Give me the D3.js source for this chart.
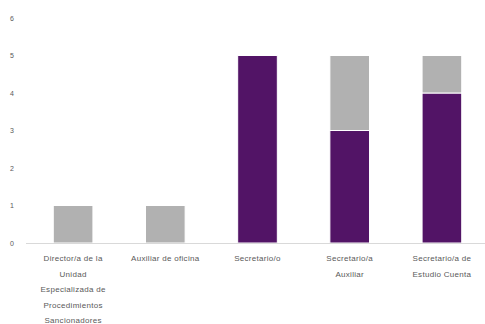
<!DOCTYPE html>
<html>
<head>
<meta charset="utf-8">
<script src="https://cdn.jsdelivr.net/npm/d3@7"></script>
<style>
  html, body { margin: 0; padding: 0; background: #fff; }
  svg { display: block; font-family: Calibri, Carlito, "Liberation Sans", Arial, sans-serif; }
</style>
</head>
<body>
<svg id="j-svg" width="485" height="324" viewBox="0 0 485 324"></svg>
<script>
'use strict';

/* global d3 */

// categories, one array of text lines per category
var categories = [
  ['Director/a de la', 'Unidad', 'Especializada de', 'Procedimientos', 'Sancionadores'],
  ['Auxiliar de oficina'],
  ['Secretario/o'],
  ['Secretario/a', 'Auxiliar'],
  ['Secretario/a de', 'Estudio Cuenta']
];
var seriesNames = ['Mujeres', 'Hombres'];
var mujeres = [0, 0, 5, 3, 4];
var hombres = [1, 1, 0, 2, 1];
var yTicks = [0, 1, 2, 3, 4, 5, 6];

var colors = ['#521466', '#b1b1b1'];

var svg = d3.select('#j-svg');
var margins = { top: 18, right: 0, bottom: 81, left: 27 };
var width = 488 - margins.left;
var height = 324 - margins.top - margins.bottom;

var g = svg.append('g').attr('transform', 'translate(' + margins.left + ',' + margins.top + ')');

var keys = categories.map(function (c, i) { return i; });

var x = d3.scaleBand().domain(keys).range([0, width]).paddingInner(0.57).paddingOuter(0.285);
var y = d3.scaleLinear().domain([0, 6]).range([height, 0]);

var table = keys.map(function (i) {
  return { Mujeres: mujeres[i], Hombres: hombres[i], idx: i };
});
var stacked = d3.stack().keys(seriesNames)(table);

// y axis labels only
var yAxis = d3.axisLeft(y).tickValues(yTicks).tickFormat(d3.format('d')).tickSize(0).tickPadding(0);
var ya = g.append('g').attr('class', 'y-axis').attr('transform', 'translate(-15,0)').call(yAxis);
ya.select('.domain').remove();
ya.selectAll('text').attr('fill', '#595959').style('font-size', '7px').attr('text-anchor', 'middle');

// bars
g.selectAll('.series').data(stacked).enter().append('g')
  .attr('class', 'series')
  .attr('fill', function (d, i) { return colors[i]; })
  .selectAll('rect').data(function (d) { return d; }).enter()
  .filter(function (d) { return d[1] - d[0] > 0; })
  .append('rect')
  .attr('x', function (d) { return x(d.data.idx); })
  .attr('width', x.bandwidth())
  .attr('y', function (d) { return y(d[1]); })
  .attr('height', function (d) { return y(d[0]) - y(d[1]); })
  .attr('stroke', '#fff')
  .attr('stroke-width', 1);

// baseline
g.append('line')
  .attr('x1', -1).attr('x2', width)
  .attr('y1', y(0) + 0.5).attr('y2', y(0) + 0.5)
  .attr('stroke', '#d9d9d9').attr('stroke-width', 1);

// x axis labels
var xAxis = d3.axisBottom(x).tickSize(0).tickFormat('');
var xa = g.append('g').attr('class', 'x-axis').attr('transform', 'translate(0,' + height + ')').call(xAxis);
xa.select('.domain').remove();
xa.selectAll('.tick').each(function (d) {
  var t = d3.select(this).append('text')
    .attr('fill', '#595959')
    .attr('text-anchor', 'middle')
    .style('font-size', '8px')
    .style('letter-spacing', '0.3px');
  categories[d].forEach(function (line, j) {
    t.append('tspan').attr('x', 0).attr('y', 18 + j * 15.5).text(line);
  });
});
</script>
</body>
</html>
